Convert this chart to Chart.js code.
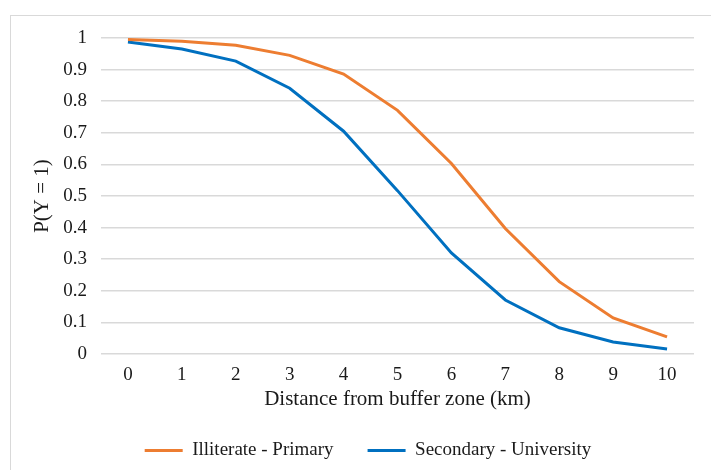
<!DOCTYPE html>
<html>
<head>
<meta charset="utf-8">
<script src="https://cdn.jsdelivr.net/npm/chart.js@4"></script>
<style>
  html, body { margin: 0; padding: 0; background: #fff; }
  #wrap { position: relative; width: 711px; height: 470px; overflow: hidden; }
  #frame { position: absolute; left: 10px; top: 15px; width: 800px; height: 600px;
           border-top: 1px solid #d9d9d9; border-left: 1px solid #d9d9d9; }
  canvas { position: absolute; left: 0; top: 0; }
</style>
</head>
<body>
<div id="wrap">
  <div id="frame"></div>
  <canvas id="c" width="711" height="470"></canvas>
</div>
<script>
const categories = ['0','1','2','3','4','5','6','7','8','9','10'];
const illiteratePrimary = [0.995, 0.99, 0.977, 0.945, 0.886, 0.771, 0.603, 0.397, 0.229, 0.114, 0.054];
const secondaryUniversity = [0.987, 0.965, 0.927, 0.841, 0.705, 0.517, 0.32, 0.171, 0.083, 0.038, 0.016];
const seriesNames = ['Illiterate - Primary', 'Secondary - University'];
const yTicks = [0, 0.1, 0.2, 0.3, 0.4, 0.5, 0.6, 0.7, 0.8, 0.9, 1];

const FONT = "'Liberation Serif', 'Times New Roman', serif";
const TXT = '#1a1a1a';
const ORANGE = '#ED7D31';
const BLUE = '#0070C0';

new Chart(document.getElementById('c'), {
  type: 'line',
  data: {
    labels: categories,
    datasets: [
      { label: seriesNames[0], data: illiteratePrimary, borderColor: ORANGE, backgroundColor: ORANGE,
        borderWidth: 3, pointRadius: 0, tension: 0, fill: false },
      { label: seriesNames[1], data: secondaryUniversity, borderColor: BLUE, backgroundColor: BLUE,
        borderWidth: 3, pointRadius: 0, tension: 0, fill: false }
    ]
  },
  options: {
    responsive: false,
    animation: false,
    layout: { padding: { left: 42, right: 17, top: 38, bottom: 0 } },
    plugins: {
      tooltip: { enabled: false },
      legend: {
        position: 'bottom',
        labels: {
          font: { family: FONT, size: 19 },
          color: TXT,
          boxWidth: 38,
          boxHeight: 3,
          padding: 34,
          generateLabels: (chart) => Chart.defaults.plugins.legend.labels.generateLabels(chart).map(it => Object.assign(it, { lineWidth: 0 }))
        }
      }
    },
    scales: {
      x: {
        offset: true,
        grid: { display: false, drawTicks: false },
        border: { display: false },
        ticks: { font: { family: FONT, size: 19, lineHeight: 1 }, color: TXT, padding: 12, maxRotation: 0 },
        title: { display: true, text: 'Distance from buffer zone (km)', font: { family: FONT, size: 21, lineHeight: 1 }, color: TXT, padding: { top: -8, bottom: -3 } }
      },
      y: {
        min: 0, max: 1,
        afterBuildTicks: (s) => { s.ticks = yTicks.map(v => ({ value: v })); },
        afterFit: (s) => { s.width = 59; },
        grid: { color: '#d9d9d9', lineWidth: 1.5, drawTicks: false },
        border: { display: false },
        ticks: { font: { family: FONT, size: 19 }, color: TXT, padding: 14,
                 callback: (v) => String(Math.round(v * 10) / 10) },
        title: { display: true, text: 'P(Y = 1)', font: { family: FONT, size: 21, lineHeight: 1 }, color: TXT, padding: { top: -10, bottom: 0 } }
      }
    }
  }
});
</script>
</body>
</html>
